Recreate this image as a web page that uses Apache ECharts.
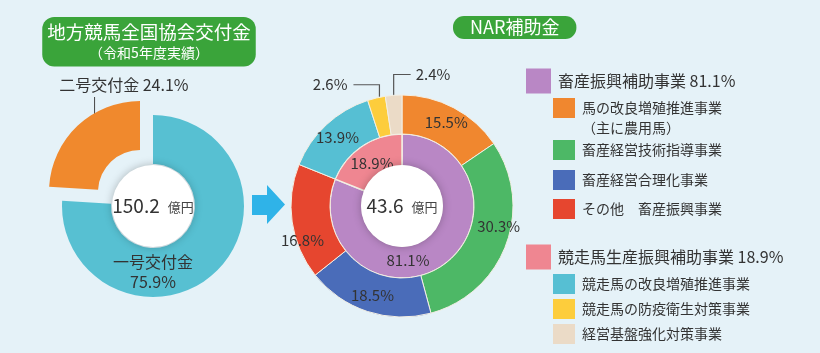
<!DOCTYPE html>
<html>
<head>
<meta charset="utf-8">
<title>地方競馬全国協会交付金 / NAR補助金</title>
<script src="https://cdn.jsdelivr.net/npm/echarts@6/dist/echarts.min.js"></script>
<style>
html, body { margin: 0; padding: 0; background: #e5f2f8; }
#main { width: 820px; height: 353px; }
</style>
</head>
<body>
<div id="main"></div>
<script>
// 交付金（左の円グラフ）
const grantNames = ['一号交付金', '二号交付金']
const grantValues = [75.9, 24.1]
const grantTotal = 150.2

// NAR補助金 内側（大分類）
const groupNames = ['畜産振興補助事業', '競走馬生産振興補助事業']
const groupValues = [81.1, 18.9]
const subsidyTotal = 43.6

// NAR補助金 外側（事業別）
const itemNames = [
  '馬の改良増殖推進事業\n（主に農用馬）',
  '畜産経営技術指導事業',
  '畜産経営合理化事業',
  'その他　畜産振興事業',
  '競走馬の改良増殖推進事業',
  '競走馬の防疫衛生対策事業',
  '経営基盤強化対策事業'
]
const itemValues = [15.5, 30.3, 18.5, 16.8, 13.9, 2.6, 2.4]

const grantColors = ['#57c0d2', '#f0892d']
const groupColors = ['#b987c5', '#ef8691']
const itemColors = ['#f0872f', '#4db866', '#4a6cb9', '#e6462f', '#56bfd3', '#fdcd3c', '#ebdbc7']

const FONT = "'Noto Sans CJK JP', 'Noto Sans', sans-serif"
const TEXT = '#333'
const GREEN = '#3aa43a'

const chartInstance = echarts.init(document.getElementById('main'))

// 凡例の行位置（レイアウトのみ）
const groupLegendY = [81, 257]
const itemLegendY = [108, 150, 180, 209, 284, 309, 334]

// ラベルの微調整（レイアウトのみ）
const innerLabelShift = { 0: [-27, 5], 1: [3, 6] }
const outerLabelShift = { 1: [8, -13], 3: [-6, 21] }

const legendGraphics = []
groupNames.forEach((name, i) => {
  legendGraphics.push({
    type: 'rect',
    shape: { x: 526, y: groupLegendY[i] - 12.5, width: 25, height: 25 },
    style: { fill: groupColors[i] }
  })
  legendGraphics.push({
    type: 'text',
    x: 558,
    y: groupLegendY[i],
    style: {
      text: name + ' ' + groupValues[i] + '%',
      fill: TEXT,
      font: '16px ' + FONT,
      verticalAlign: 'middle'
    }
  })
})
itemNames.forEach((name, i) => {
  legendGraphics.push({
    type: 'rect',
    shape: { x: 553, y: itemLegendY[i] - 10, width: 22, height: 20 },
    style: { fill: itemColors[i] }
  })
  legendGraphics.push({
    type: 'text',
    x: 582,
    y: itemLegendY[i] - 10,
    style: {
      text: name,
      fill: TEXT,
      font: '14px ' + FONT,
      lineHeight: 20,
      verticalAlign: 'top'
    }
  })
})

// 矢印
const arrowGraphic = {
  type: 'polygon',
  shape: {
    points: [[252, 195], [267, 195], [267, 185], [285, 204.5], [267, 224], [267, 215], [252, 215]]
  },
  style: { fill: '#2fb3e8' }
}

const centerLabel = total => ({
  show: true,
  position: 'center',
  formatter: '{num|' + total + '}{unit|億円}',
  rich: {
    num: { fontSize: 19, color: TEXT, fontFamily: FONT },
    unit: { fontSize: 13, color: '#444', fontFamily: FONT, padding: [2, 0, 0, 8] }
  }
})

const whiteCircle = (center, total) => ({
  type: 'pie',
  silent: true,
  center: center,
  radius: [0, 41],
  z: 5,
  itemStyle: { color: '#fff', shadowBlur: 8, shadowColor: 'rgba(0,0,0,0.25)' },
  label: centerLabel(total),
  labelLine: { show: false },
  data: [{ name: '合計', value: total }]
})

const shiftLabel = table => p => {
  const s = table[p.dataIndex]
  return s ? { dx: s[0], dy: s[1] } : {}
}

const LEFT_CENTER = [153, 206]
const ORANGE_CENTER = [140, 192]
const RIGHT_CENTER = [402, 206]

const option = {
  animation: false,
  backgroundColor: '#e5f2f8',
  textStyle: { fontFamily: FONT },
  title: [
    {
      text: '地方競馬全国協会交付金',
      subtext: '（令和5年度実績）',
      left: 144,
      top: 17,
      textAlign: 'center',
      itemGap: 4,
      padding: [6, 5, 7, 5],
      backgroundColor: GREEN,
      borderRadius: 12,
      textStyle: { color: '#fff', fontSize: 18.5, fontWeight: 'normal', fontFamily: FONT },
      subtextStyle: { color: '#fff', fontSize: 14, fontFamily: FONT }
    },
    {
      text: 'NAR補助金',
      left: 453,
      top: 16,
      padding: [2, 17, 3, 17],
      backgroundColor: GREEN,
      borderRadius: 11,
      textStyle: { color: '#fff', fontSize: 18, fontWeight: 'normal', fontFamily: FONT }
    }
  ],
  graphic: [arrowGraphic].concat(legendGraphics),
  series: [
    // 一号交付金
    {
      type: 'pie',
      silent: true,
      center: LEFT_CENTER,
      radius: [42, 91],
      startAngle: 90,
      label: {
        position: 'inside',
        formatter: '{b}\n{c}%',
        fontSize: 16,
        lineHeight: 20,
        color: TEXT,
        fontFamily: FONT
      },
      labelLayout: p => ({
        x: p.rect.x + p.rect.width / 2,
        y: p.rect.y + p.rect.height * 0.86,
        align: 'center',
        verticalAlign: 'middle'
      }),
      data: grantValues.map((v, i) => ({
        name: grantNames[i],
        value: v,
        itemStyle: { color: i === 0 ? grantColors[0] : 'transparent' },
        label: { show: i === 0 }
      }))
    },
    // 二号交付金（切り離し）
    {
      type: 'pie',
      silent: true,
      center: ORANGE_CENTER,
      radius: [42, 91],
      startAngle: 90,
      label: {
        position: 'outside',
        formatter: '{b} {c}%',
        fontSize: 16,
        width: 170,
        overflow: 'none',
        color: TEXT,
        fontFamily: FONT
      },
      labelLine: { show: true, lineStyle: { color: '#444', width: 1 } },
      labelLayout: p => {
        const r = p.rect
        const lx = r.x + r.width / 2
        return {
          x: r.x + 10,
          y: r.y - 16,
          align: 'left',
          verticalAlign: 'middle',
          labelLinePoints: [[lx, r.y + 30], [lx, r.y - 4], [lx, r.y - 4]]
        }
      },
      data: grantValues.map((v, i) => ({
        name: grantNames[i],
        value: v,
        itemStyle: { color: i === 1 ? grantColors[1] : 'transparent' },
        label: { show: i === 1 },
        labelLine: { show: i === 1 }
      }))
    },
    whiteCircle(LEFT_CENTER, grantTotal),
    // NAR補助金 内側
    {
      type: 'pie',
      silent: true,
      center: RIGHT_CENTER,
      radius: [40, 72],
      startAngle: 90,
      itemStyle: { borderColor: '#f3efe4', borderWidth: 1.5 },
      label: {
        position: 'inside',
        formatter: '{c}%',
        fontSize: 15,
        color: TEXT,
        fontFamily: FONT
      },
      labelLayout: shiftLabel(innerLabelShift),
      data: groupValues.map((v, i) => ({
        name: groupNames[i],
        value: v,
        itemStyle: { color: groupColors[i] }
      }))
    },
    // NAR補助金 外側
    {
      type: 'pie',
      silent: true,
      center: RIGHT_CENTER,
      radius: [72, 111],
      startAngle: 90,
      avoidLabelOverlap: false,
      itemStyle: { borderColor: '#f3efe4', borderWidth: 1 },
      label: {
        position: 'inside',
        formatter: '{c}%',
        fontSize: 15,
        color: TEXT,
        fontFamily: FONT
      },
      labelLine: { show: false, lineStyle: { color: '#555', width: 1.2 } },
      labelLayout: p => {
        if (itemValues[p.dataIndex] >= 5) return shiftLabel(outerLabelShift)(p)
        const r = p.rect
        const x0 = r.x + r.width / 2
        const y0 = r.y + 1
        // 小さい項目：左（防疫）と右（経営基盤）に振り分け
        if (p.dataIndex === 5) {
          const yt = y0 - 12
          const xe = x0 - 26
          return {
            x: xe - 6, y: yt, align: 'right', verticalAlign: 'middle',
            labelLinePoints: [[x0, y0], [x0, yt], [xe, yt]]
          }
        }
        const yt = y0 - 21
        const xe = x0 + 17
        return {
          x: xe + 5, y: yt, align: 'left', verticalAlign: 'middle',
          labelLinePoints: [[x0, y0], [x0, yt], [xe, yt]]
        }
      },
      data: itemValues.map((v, i) => ({
        name: itemNames[i],
        value: v,
        itemStyle: { color: itemColors[i] },
        label: v < 5 ? { position: 'outside' } : {},
        labelLine: { show: v < 5 }
      }))
    },
    whiteCircle(RIGHT_CENTER, subsidyTotal)
  ]
}

chartInstance.setOption(option)
</script>
</body>
</html>
